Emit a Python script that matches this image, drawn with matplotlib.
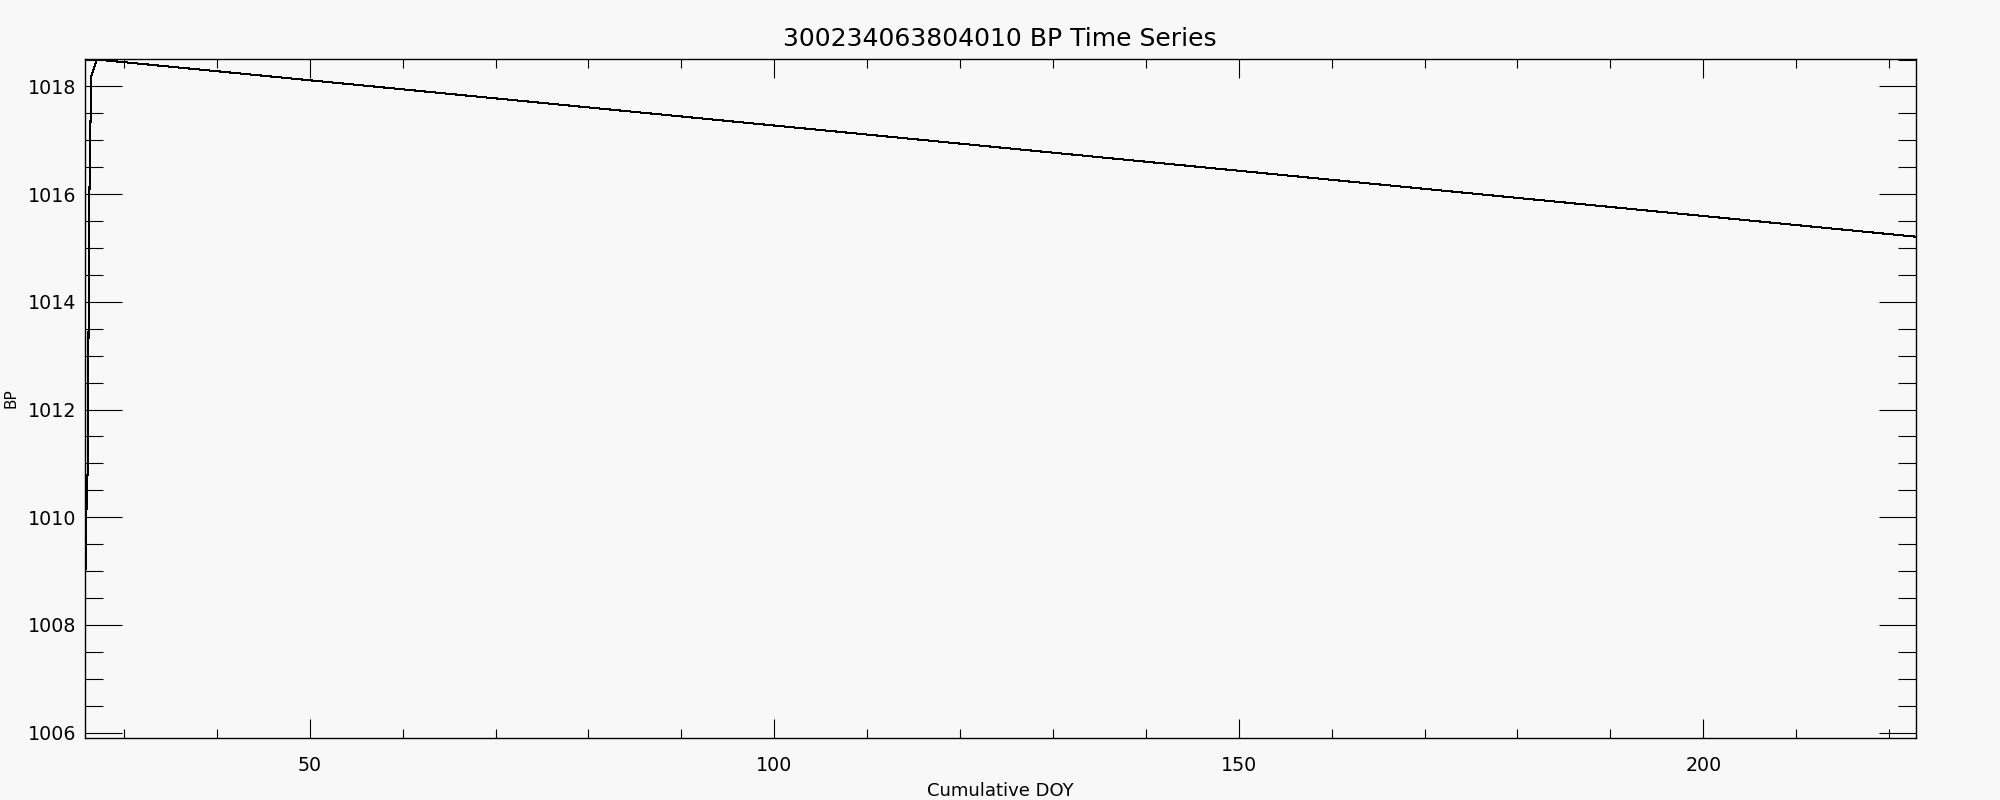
import matplotlib
matplotlib.use("Agg")
import matplotlib.pyplot as plt
from matplotlib.ticker import MultipleLocator

# Cumulative day of year and barometric pressure
doy = [25.80, 25.82, 25.95, 26.12, 26.20, 26.28, 26.40, 26.50, 27.10, 222.90]
bp = [1007.2, 1008.5, 1010.0, 1011.0, 1013.7, 1015.9, 1017.3, 1018.2, 1018.5, 1015.21]

title = "300234063804010 BP Time Series"
x_range = (25.76, 222.9)
y_range = (1005.91, 1018.51)

bg = "#f8f8f8"

fig = plt.figure(figsize=(20, 8), dpi=100, facecolor=bg)
ax = fig.add_axes([0.04225, 0.0781, 0.91575, 0.84815], facecolor=bg)

# data line, drawn without smoothing like the original
ax.plot(doy, bp, color="black", lw=0.75, antialiased=False)

ax.set_xlim(*x_range)
ax.set_ylim(*y_range)

# major / minor ticks, pointing inward on all four sides
ax.xaxis.set_major_locator(MultipleLocator(50))
ax.xaxis.set_minor_locator(MultipleLocator(10))
ax.yaxis.set_major_locator(MultipleLocator(2))
ax.yaxis.set_minor_locator(MultipleLocator(0.5))

ax.tick_params(axis="both", which="both", direction="in",
               top=True, right=True, colors="black", width=0.8)
ax.tick_params(axis="x", which="major", length=13.5, pad=13, labelsize=13.7)
ax.tick_params(axis="x", which="minor", length=6.5)
ax.tick_params(axis="y", which="major", length=26.5, pad=5.8, labelsize=13.7)
ax.tick_params(axis="y", which="minor", length=13)

for s in ax.spines.values():
    s.set_linewidth(1.0)
    s.set_color("black")

# labels
ax.set_title(title, fontsize=18, pad=9)
ax.set_xlabel("Cumulative DOY", fontsize=13)
ax.xaxis.set_label_coords(0.5, -0.066)
ax.set_ylabel("BP", fontsize=11)
ax.yaxis.set_label_coords(-0.036, 0.5)

fig.savefig("out.png", dpi=100, facecolor=bg)
